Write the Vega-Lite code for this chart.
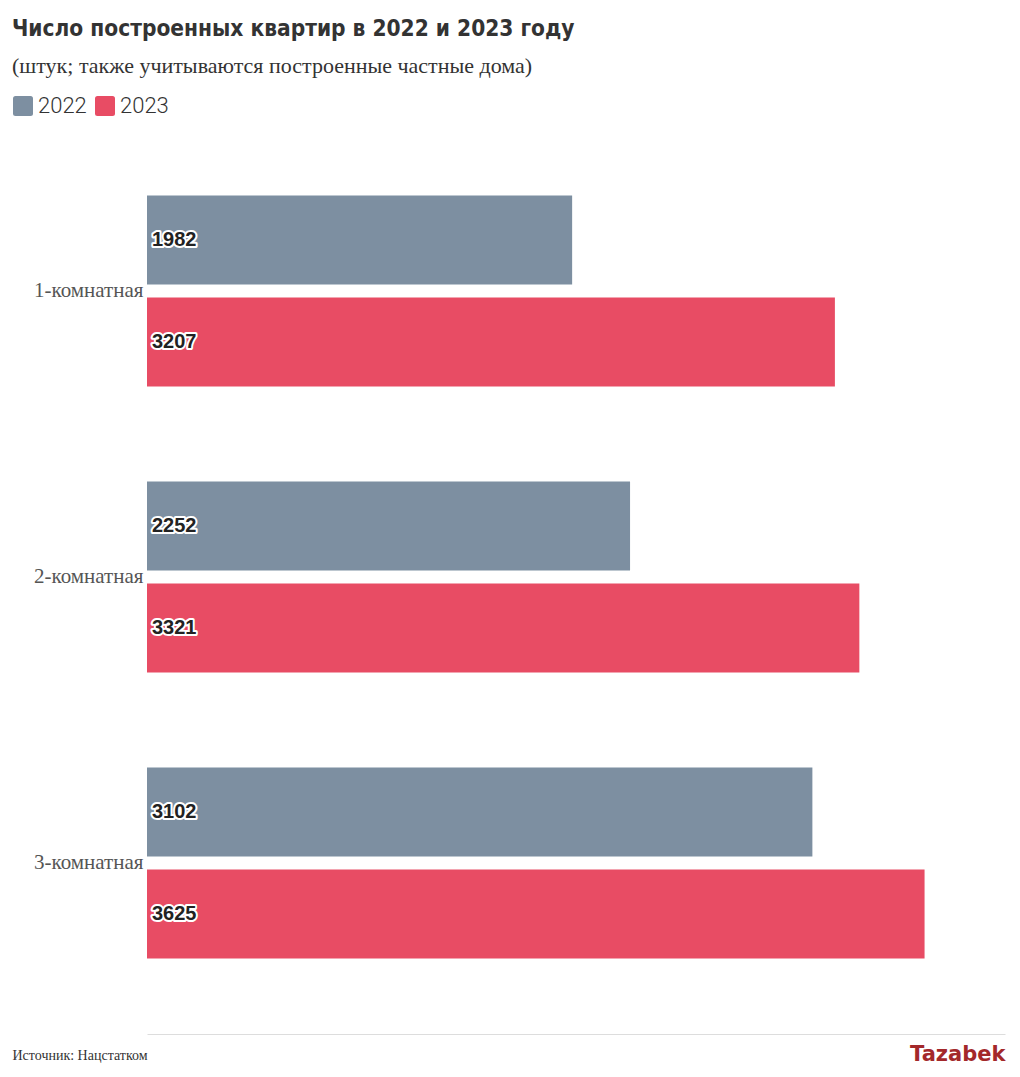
{
  "$schema": "https://vega.github.io/schema/vega-lite/v6.json",
  "width": 858,
  "height": 858,
  "padding": {"left": 12, "top": 17, "right": 12, "bottom": 10},
  "background": "#ffffff",
  "title": {
    "text": "Число построенных квартир в 2022 и 2023 году",
    "subtitle": "(штук; также учитываются построенные частные дома)",
    "anchor": "start",
    "frame": "bounds",
    "font": "DejaVu Sans Condensed",
    "fontSize": 22.5,
    "fontWeight": "bold",
    "color": "#333333",
    "subtitleFont": "Liberation Serif",
    "subtitleFontSize": 22,
    "subtitleColor": "#333333",
    "subtitlePadding": 16,
    "offset": 18
  },
  "data": {
    "values": [
      {"type": "1-комнатная", "year": "2022", "value": 1982},
      {"type": "1-комнатная", "year": "2023", "value": 3207},
      {"type": "2-комнатная", "year": "2022", "value": 2252},
      {"type": "2-комнатная", "year": "2023", "value": 3321},
      {"type": "3-комнатная", "year": "2022", "value": 3102},
      {"type": "3-комнатная", "year": "2023", "value": 3625}
    ]
  },
  "encoding": {
    "y": {
      "field": "type",
      "type": "nominal",
      "title": null,
      "scale": {"paddingInner": 0.332, "paddingOuter": 0.166},
      "axis": {
        "domain": false,
        "ticks": false,
        "labelFont": "Liberation Serif",
        "labelFontSize": 21,
        "labelColor": "#555555",
        "labelPadding": 4
      }
    },
    "yOffset": {
      "field": "year",
      "type": "nominal",
      "scale": {"paddingInner": 0.127, "paddingOuter": 0}
    },
    "x": {
      "field": "value",
      "type": "quantitative",
      "scale": {"domain": [0, 4000], "nice": false},
      "axis": {
        "values": [4000],
        "labelExpr": "'Tazabek'",
        "labelFont": "DejaVu Sans",
        "labelFontWeight": "bold",
        "labelFontSize": 21,
        "labelColor": "#a3282a",
        "labelAlign": "right",
        "labelBaseline": "top",
        "labelPadding": 9,
        "ticks": false,
        "grid": false,
        "offset": 28,
        "domainColor": "#dddddd",
        "domainWidth": 1,
        "title": "Источник: Нацстатком",
        "titleFont": "Liberation Serif",
        "titleFontSize": 14,
        "titleFontWeight": "normal",
        "titleColor": "#333333",
        "titleAlign": "left",
        "titleAnchor": "start",
        "titleBaseline": "middle",
        "titleX": -135,
        "titleY": 21
      }
    }
  },
  "layer": [
    {
      "mark": {"type": "bar"},
      "encoding": {
        "color": {
          "field": "year",
          "type": "nominal",
          "scale": {"domain": ["2022", "2023"], "range": ["#7d8fa1", "#e84c64"]},
          "legend": {
            "title": null,
            "orient": "none",
            "direction": "horizontal",
            "legendX": -135,
            "legendY": -53,
            "symbolType": "M-1,-0.75 Q-1,-1 -0.75,-1 L0.75,-1 Q1,-1 1,-0.75 L1,0.75 Q1,1 0.75,1 L-0.75,1 Q-1,1 -1,0.75 Z",
            "symbolSize": 400,
            "symbolStrokeWidth": 0,
            "symbolOpacity": 1,
            "labelFont": "Roboto",
            "labelFontWeight": 300,
            "labelFontSize": 22,
            "labelColor": "#333333",
            "labelOffset": 4,
            "columnPadding": 7
          }
        }
      }
    },
    {
      "mark": {
        "type": "text",
        "align": "left",
        "baseline": "middle",
        "dx": 5,
        "font": "Liberation Sans",
        "fontWeight": "bold",
        "fontSize": 20,
        "stroke": "#ffffff",
        "strokeWidth": 4,
        "strokeJoin": "round",
        "fill": "#ffffff"
      },
      "encoding": {
        "x": {"datum": 0, "type": "quantitative"},
        "text": {"field": "value", "type": "quantitative", "format": "d"}
      }
    },
    {
      "mark": {
        "type": "text",
        "align": "left",
        "baseline": "middle",
        "dx": 5,
        "font": "Liberation Sans",
        "fontWeight": "bold",
        "fontSize": 20,
        "fill": "#222222"
      },
      "encoding": {
        "x": {"datum": 0, "type": "quantitative"},
        "text": {"field": "value", "type": "quantitative", "format": "d"}
      }
    }
  ],
  "config": {
    "view": {"stroke": null}
  }
}
